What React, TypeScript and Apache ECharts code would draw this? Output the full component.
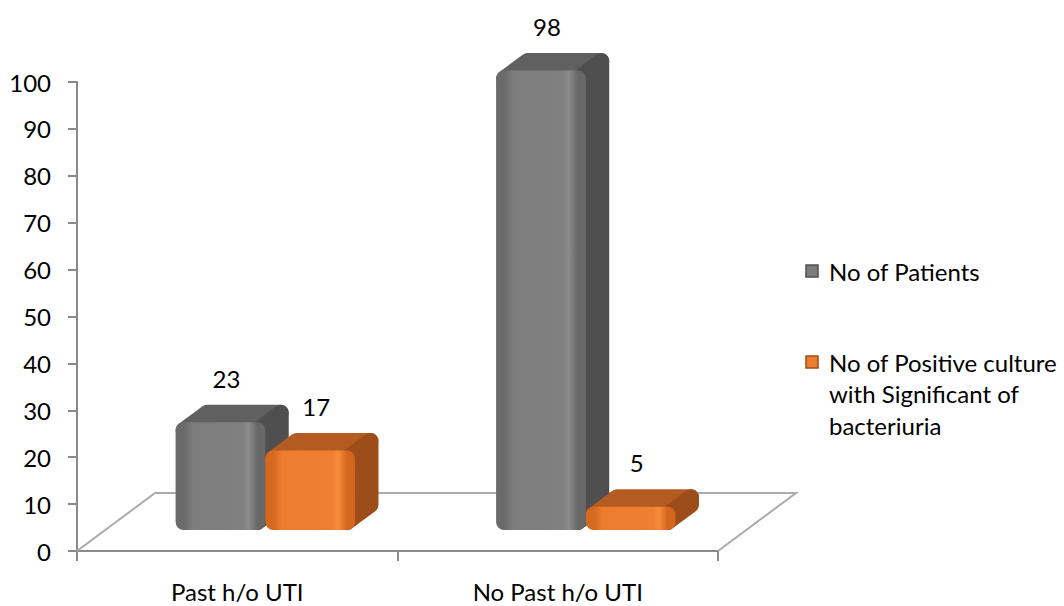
import React, { useEffect, useRef } from "react";
import * as echarts from "echarts";

const categories = ["Past h/o UTI", "No Past h/o UTI"];
const seriesNames = [
  "No of Patients",
  "No of Positive culture with Significant of bacteriuria",
];
const patients = [23, 98];
const positiveCulture = [17, 5];
const legendLabels = ["No of Patients", "No of Positive culture\nwith Significant of\nbacteriuria"];

const FONT = "Lato, 'Open Sans', sans-serif";
const FS = 24;
const DEPTH = [78, -58];
const BAR_FRAC = 0.28;
const R = 8;

const palettes = [
  { front: ["#6a6a6a", "#7d7d7d", "#808080", "#8c8c8c", "#686868"], top: "#606060", side: "#4f4f4f" },
  { front: ["#d66920", "#ec7c30", "#ee7f33", "#f98c3c", "#d2661e"], top: "#b35b21", side: "#9c4d19" },
];

function makeBarRender(seriesIdx: number) {
  const pal = palettes[seriesIdx];
  return (params: any, api: any) => {
    const ci = api.value(0);
    const v = api.value(1);
    const top = api.coord([ci, v]);
    const base = api.coord([ci, 0]);
    const band = api.size([1, 0])[0];
    const bw = band * BAR_FRAC;
    const ox = DEPTH[0] * 0.36;
    const oy = DEPTH[1] * 0.36;
    const dx = DEPTH[0] * 0.3;
    const dy = DEPTH[1] * 0.3;
    const fx = top[0] + (seriesIdx === 0 ? -bw : 0) + ox;
    const fy = top[1] + oy;
    const fb = base[1] + oy;
    const h = fb - fy;
    const r = Math.min(R, h / 2 - 0.5);
    const grad = new echarts.graphic.LinearGradient(0, 0, 1, 0, [
      { offset: 0, color: pal.front[0] },
      { offset: 0.12, color: pal.front[1] },
      { offset: 0.8, color: pal.front[2] },
      { offset: 0.88, color: pal.front[3] },
      { offset: 1, color: pal.front[4] },
    ]);
    const rounded = (pts: number[][], color: any) => ({
      type: "polygon",
      shape: { points: pts },
      style: { fill: color, stroke: color, lineWidth: 2 * r, lineJoin: "round" },
    });
    const topPts = [
      [fx + r, fy + r],
      [fx + bw - r, fy + r],
      [fx + bw - r + dx, fy + r + dy],
      [fx + r + dx, fy + r + dy],
    ];
    const sidePts = [
      [fx + bw - r, fy + r],
      [fx + bw - r + dx, fy + r + dy],
      [fx + bw - r + dx, fb - r + dy],
      [fx + bw - r, fb - r],
    ];
    const frontPts = [
      [fx + r, fy + r],
      [fx + bw - r, fy + r],
      [fx + bw - r, fb - r],
      [fx + r, fb - r],
    ];
    return {
      type: "group",
      children: [
        rounded(topPts, pal.top),
        rounded(sidePts, pal.side),
        rounded(frontPts, grad),
        {
          type: "text",
          style: {
            text: String(v),
            x: fx + bw / 2 + 6,
            y: fy - 44,
            align: "center",
            verticalAlign: "middle",
            fontSize: FS,
            fontFamily: FONT,
            fill: "#000",
          },
        },
      ],
    };
  };
}

function floorRender(params: any, api: any) {
  const band = api.size([1, 0])[0];
  const a = api.coord([0, 0]);
  const b = api.coord([categories.length - 1, 0]);
  const left = a[0] - band / 2;
  const right = b[0] + band / 2;
  const y0 = a[1];
  return {
    type: "polyline",
    shape: {
      points: [
        [left, y0],
        [left + DEPTH[0], y0 + DEPTH[1]],
        [right + DEPTH[0], y0 + DEPTH[1]],
        [right, y0],
      ],
    },
    style: { stroke: "#ababab", lineWidth: 2, fill: "none" },
  };
}

export default function App() {
  const ref = useRef<HTMLDivElement>(null);
  useEffect(() => {
    if (!ref.current) return;
    const chart = echarts.init(ref.current, null, { renderer: "svg" });
    const legendGraphics: any[] = [];
    const legendY = [271, 362];
    legendLabels.forEach((t, i) => {
      const pal = palettes[i];
      legendGraphics.push({
        type: "rect",
        shape: { x: 806, y: legendY[i] - 6, width: 12, height: 12 },
        style: { fill: pal.front[1], stroke: pal.side, lineWidth: 1.5 },
      });
      legendGraphics.push({
        type: "text",
        x: 829,
        y: legendY[i] - 15.5,
        style: {
          text: t,
          fontSize: FS,
          lineHeight: 31.5,
          fontFamily: FONT,
          fill: "#000",
          verticalAlign: "top",
          align: "left",
        },
      });
    });
    chart.setOption({
      animation: false,
      backgroundColor: "#fff",
      grid: { left: 77, right: 346, top: 82, bottom: 55 },
      xAxis: {
        type: "category",
        data: categories,
        axisLine: { show: true, lineStyle: { color: "#8a8a8a", width: 2 } },
        axisTick: { show: true, length: 10, lineStyle: { color: "#8a8a8a", width: 2 } },
        axisLabel: { margin: 28, fontSize: FS, lineHeight: 24, fontFamily: FONT, color: "#000" },
        splitLine: { show: false },
      },
      yAxis: {
        type: "value",
        min: 0,
        max: 100,
        interval: 10,
        axisLine: { show: true, lineStyle: { color: "#8a8a8a", width: 2 } },
        axisTick: { show: true, length: 9, lineStyle: { color: "#8a8a8a", width: 2 } },
        axisLabel: { margin: 26, fontSize: FS, fontFamily: FONT, color: "#000" },
        splitLine: { show: false },
      },
      graphic: legendGraphics,
      series: [
        {
          type: "custom",
          name: "floor",
          z: 1,
          clip: false,
          silent: true,
          renderItem: floorRender,
          data: [[0, 0]],
          encode: { x: 0, y: 1 },
        },
        {
          type: "custom",
          name: seriesNames[0],
          z: 2,
          clip: false,
          renderItem: makeBarRender(0),
          data: patients.map((v, i) => [i, v]),
          encode: { x: 0, y: 1 },
        },
        {
          type: "custom",
          name: seriesNames[1],
          z: 3,
          clip: false,
          renderItem: makeBarRender(1),
          data: positiveCulture.map((v, i) => [i, v]),
          encode: { x: 0, y: 1 },
        },
      ],
    });
    return () => chart.dispose();
  }, []);
  return (
    <div
      ref={ref}
      style={{ position: "fixed", left: 0, top: 0, width: 1064, height: 606 }}
    />
  );
}
